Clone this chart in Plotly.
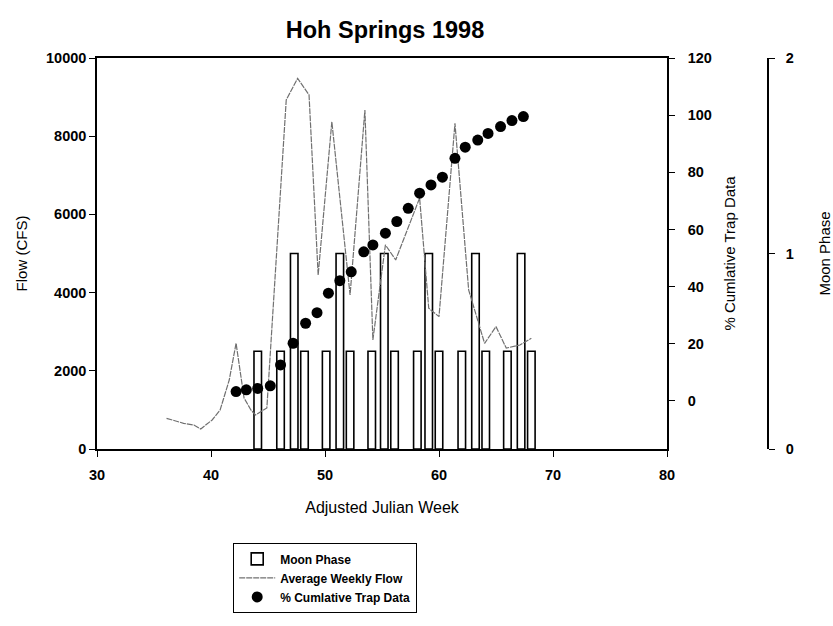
import plotly.graph_objects as go

# ---- data ----
moon_week = [44.1, 46.1, 47.3, 48.2, 50.1, 51.3, 52.2, 54.1, 55.2, 56.1,
             58.1, 59.1, 60.0, 62.0, 63.2, 64.1, 66.0, 67.2, 68.1]
moon_phase = [0.5, 0.5, 1, 0.5, 0.5, 1, 0.5, 0.5, 1, 0.5,
              0.5, 1, 0.5, 0.5, 1, 0.5, 0.5, 1, 0.5]

flow_week = [36.1, 37.6, 38.5, 39.1, 40.1, 40.8, 41.6, 42.2, 42.9, 43.5, 43.9,
             44.9, 46.6, 47.6, 48.6, 49.4, 50.6, 52.2, 53.5, 54.2, 55.3, 56.2,
             58.3, 59.1, 60.0, 61.4, 62.6, 64.0, 65.0, 65.9, 67.1, 68.1]
flow_cfs = [785, 657, 614, 512, 742, 998, 1765, 2704, 1305, 998, 870,
            1050, 8930, 9480, 9055, 4450, 8370, 3940, 8670, 2790, 5220, 4835,
            6420, 3600, 3385, 8330, 4070, 2700, 3130, 2580, 2660, 2830]

trap_week = [42.2, 43.1, 44.1, 45.2, 46.1, 47.2, 48.3, 49.3, 50.3, 51.3, 52.3,
             53.4, 54.2, 55.3, 56.3, 57.3, 58.3, 59.3, 60.3, 61.4, 62.3, 63.4,
             64.3, 65.4, 66.4, 67.4]
trap_pct = [3.3, 3.9, 4.4, 5.3, 12.6, 20.2, 27.2, 30.9, 37.7, 42.1, 45.2,
            52.2, 54.6, 58.7, 62.8, 67.4, 72.7, 75.6, 78.3, 84.9, 88.8, 91.3,
            93.6, 96.0, 98.1, 99.5]

x_ticks = [30, 40, 50, 60, 70, 80]
flow_ticks = [0, 2000, 4000, 6000, 8000, 10000]
flow_labels = ["0", "2000", "4000", "6000", "8000", "10000"]
pct_ticks = [0, 20, 40, 60, 80, 100, 120]
moon_ticks = [0, 1, 2]

FONT = "Arial, 'Liberation Sans', sans-serif"
tickfont = dict(family=FONT, size=14.5, color="black", weight="bold")
titlefont = dict(family=FONT, size=15, color="black")

fig = go.Figure()
fig.add_trace(go.Bar(
    x=moon_week, y=moon_phase, width=0.66, name="Moon Phase",
    marker=dict(color="white", line=dict(color="black", width=1.6)),
    xaxis="x", yaxis="y"))
fig.add_trace(go.Scatter(
    x=flow_week, y=flow_cfs, mode="lines", name="Average Weekly Flow",
    line=dict(color="#707070", width=1.2, dash="6px,1px"),
    xaxis="x", yaxis="y2"))
fig.add_trace(go.Scatter(
    x=trap_week, y=trap_pct, mode="markers", name="% Cumlative Trap Data",
    marker=dict(color="black", size=11),
    xaxis="x", yaxis="y3"))

axis_common = dict(showgrid=False, zeroline=False, showline=True,
                   linecolor="black", linewidth=1.5, ticks="outside",
                   ticklen=6, tickwidth=1.3, tickcolor="black",
                   tickfont=tickfont, automargin=False)

fig.update_layout(
    width=833, height=626,
    margin=dict(l=97, r=65, t=58, b=177),
    plot_bgcolor="white", paper_bgcolor="white",
    showlegend=True,
    title=dict(text="<b>Hoh Springs 1998</b>", x=385 / 833, xref="container",
               xanchor="center", y=1 - 30 / 626, yref="container",
               yanchor="middle",
               font=dict(family=FONT, size=23.5, color="black")),
    xaxis=dict(domain=[0, 570 / 671], range=[30, 80], tickvals=x_ticks,
               mirror=True, ticklabelstandoff=6,
               title=dict(text="Adjusted Julian Week",
                          font=dict(family=FONT, size=16, color="black"),
                          standoff=20),
               **axis_common),
    yaxis=dict(range=[0, 2], tickvals=moon_ticks, anchor="free", position=1,
               side="right", ticklabelstandoff=8,
               title=dict(text="Moon Phase", font=titlefont, standoff=28),
               **axis_common),
    yaxis2=dict(range=[0, 10000], tickvals=flow_ticks, ticktext=flow_labels,
                overlaying="y", side="left", anchor="x",
                title=dict(text="Flow (CFS)", font=titlefont, standoff=15),
                **axis_common),
    yaxis3=dict(range=[-16.8, 120], tickvals=pct_ticks, overlaying="y",
                side="right", anchor="x", ticklabelstandoff=10,
                title=dict(text="% Cumlative Trap Data", font=titlefont, standoff=14),
                **axis_common),
    legend=dict(x=(233 - 97) / 671, y=-0.42, xanchor="left",
                yanchor="bottom", bgcolor="white", bordercolor="black",
                borderwidth=1.2, traceorder="normal",
                font=dict(family=FONT, size=12, color="black", weight="bold"),
                itemwidth=36),
)

fig.write_html("out.html")
